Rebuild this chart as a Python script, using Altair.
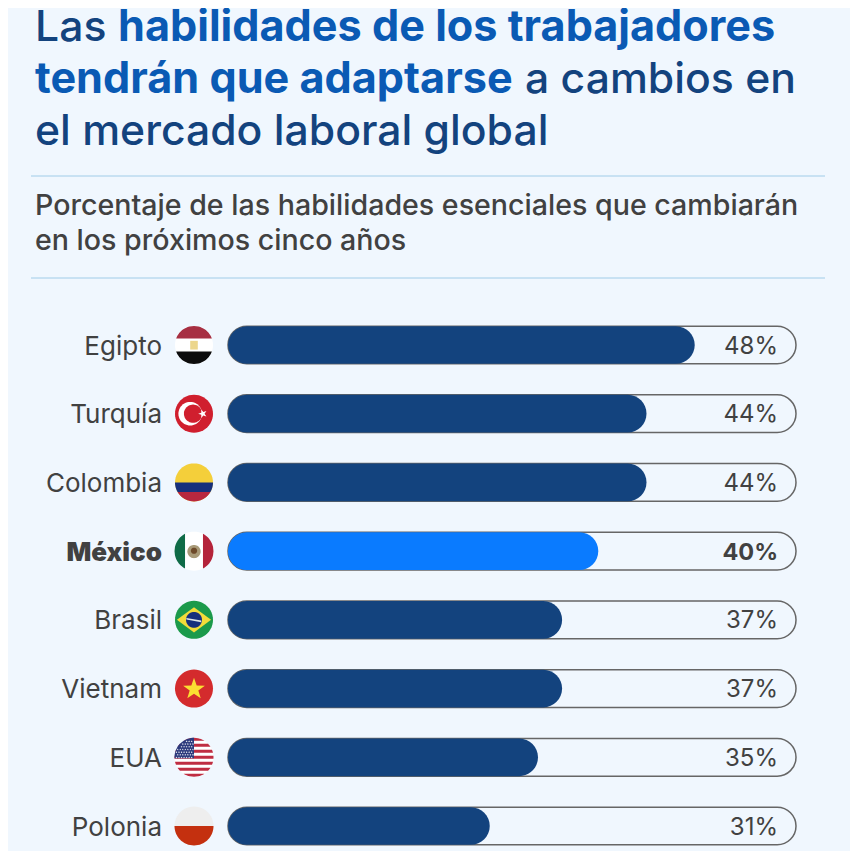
import numpy as np
import pandas as pd
import altair as alt

paises = ["Egipto", "Turquía", "Colombia", "México", "Brasil", "Vietnam", "EUA", "Polonia"]
valores = [48, 44, 44, 40, 37, 37, 35, 31]
destacado = "México"
base_eje = 9.29
tope_eje = 56.4

titulo_1a = "Las"
titulo_1b = "habilidades de los trabajadores"
titulo_2a = "tendrán que adaptarse"
titulo_2b = "a cambios en"
titulo_3 = "el mercado laboral global"
subtitulo_1 = "Porcentaje de las habilidades esenciales que cambiarán"
subtitulo_2 = "en los próximos cinco años"

FONT = "Inter"
BG = "#f0f7fe"
NAVY = "#13437e"
BLUE = "#0a5ab4"
INK = "#414141"

df = pd.DataFrame({
    "pais": paises,
    "valor": valores,
    "etiqueta": [f"{v}%" for v in valores],
    "base": [base_eje] * len(paises),
    "tope": [tope_eje] * len(paises),
    "grupo": ["si" if p == destacado else "no" for p in paises],
})

XS = alt.Scale(domain=[base_eje, tope_eje], range=[220, 788])
X = alt.X("valor:Q", axis=None, scale=XS)
Y = alt.Y("pais:N", axis=None, sort=None,
          scale=alt.Scale(type="point", domain=paises, range=[337, 818], padding=0))


def text_line(txt, x, y, size, color, weight=400, align="left"):
    return alt.Chart(pd.DataFrame({"t": [txt]})).mark_text(
        align=align, baseline="alphabetic", font=FONT, fontSize=size,
        fontWeight=weight, color=color
    ).encode(x=alt.value(x), y=alt.value(y), text="t:N")


def poly(pts):
    return "M" + " L".join(f"{a:.3f} {b:.3f}" for a, b in pts) + " Z"


def band(y0, y1, n=24, vertical=False):
    ys = np.linspace(y0, y1, n)
    xs = np.sqrt(np.clip(1 - ys ** 2, 0, 1))
    pts = [(-a, b) for a, b in zip(xs, ys)] + [(a, b) for a, b in zip(xs[::-1], ys[::-1])]
    if vertical:
        pts = [(b, a) for a, b in pts]
    return poly(pts)


def disc(cx=0.0, cy=0.0, r=1.0, n=48):
    t = np.linspace(0, 2 * np.pi, n, endpoint=False)
    return poly(list(zip(cx + r * np.cos(t), cy + r * np.sin(t))))


def star(cx, cy, r, rot=-np.pi / 2):
    t = rot + np.arange(10) * np.pi / 5
    rr = np.where(np.arange(10) % 2 == 0, r, r * 0.4)
    return poly(list(zip(cx + rr * np.cos(t), cy + rr * np.sin(t))))


def flag(pais, path, color, size=1444):
    return alt.Chart(df).transform_filter(alt.datum.pais == pais).mark_point(
        shape=path, filled=True, color=color, size=size, opacity=1, strokeWidth=0
    ).encode(x=alt.value(186), y=Y)


# Flags
t_q = np.linspace(np.pi, 1.5 * np.pi, 20)
canton = [(0.0, 0.05), (-1.0, 0.05)] + [(np.cos(a), np.sin(a)) for a in t_q if np.sin(a) < 0.05] + [(0.0, -1.0)]
us_dots = " ".join(
    star(-0.9 + 0.13 * i + (0.065 if j % 2 else 0), -0.82 + 0.14 * j, 0.055)
    for j in range(7) for i in range(7)
    if (-0.9 + 0.13 * i + (0.065 if j % 2 else 0)) ** 2 + (-0.82 + 0.14 * j) ** 2 < 0.88
    and (-0.9 + 0.13 * i + (0.065 if j % 2 else 0)) < -0.03
)
us_red = " ".join(band(-1 + i * 2 / 13, -1 + (i + 1) * 2 / 13, n=8) for i in range(0, 13, 2))

flags = [
    flag("Egipto", disc(), "#ffffff"),
    flag("Egipto", band(-1, -0.34), "#a72f42"),
    flag("Egipto", band(0.34, 1), "#0c0c0c"),
    flag("Egipto", poly([(-0.2, -0.22), (0.2, -0.22), (0.2, 0.24), (-0.2, 0.24)]), "#ecd68c"),

    flag("Turquía", disc(), "#d01f2e"),
    flag("Turquía", disc(-0.2, 0, 0.62), "#ffffff"),
    flag("Turquía", disc(-0.05, 0, 0.48), "#d01f2e"),
    flag("Turquía", star(0.46, 0, 0.24, rot=np.pi), "#ffffff"),

    flag("Colombia", disc(), "#f4cf3a"),
    flag("Colombia", band(0.0, 0.5), "#17307c"),
    flag("Colombia", band(0.5, 1), "#b8273f"),

    flag("México", disc(), "#ffffff", 1521),
    flag("México", band(-1, -0.46, vertical=True), "#0f6b47", 1521),
    flag("México", band(0.46, 1, vertical=True), "#b4233a", 1521),
    flag("México", disc(0, 0.02, 0.34), "#a89a78", 1521),
    flag("México", disc(0, -0.02, 0.16), "#6d4a2a", 1521),

    flag("Brasil", disc(), "#1b9a4b"),
    flag("Brasil", poly([(-0.9, 0), (0, -0.66), (0.9, 0), (0, 0.66)]), "#f2dc3a"),
    flag("Brasil", disc(0, 0, 0.42), "#17307c"),
    flag("Brasil", poly([(-0.4, -0.1), (0.38, 0.04), (0.38, 0.12), (-0.4, -0.02)]), "#dfe6e8"),

    flag("Vietnam", disc(), "#d42b2d"),
    flag("Vietnam", star(0, 0.03, 0.6), "#fbdf32"),

    flag("EUA", disc(), "#ffffff", 1521),
    flag("EUA", us_red, "#bf2d42", 1521),
    flag("EUA", poly(canton), "#2c3a7d", 1521),
    flag("EUA", us_dots, "#ffffff", 1521),

    flag("Polonia", disc(), "#eeeeee", 1521),
    flag("Polonia", band(0.0, 1), "#c4300f", 1521),
]

track = alt.Chart(df).mark_bar(
    height=37.7, cornerRadius=18.8, fillOpacity=0, stroke="#666666", strokeWidth=1.5
).encode(x=alt.X("tope:Q", axis=None, scale=XS), x2="base:Q", y=Y)

bars = alt.Chart(df).mark_bar(height=37.7, cornerRadius=18.8).encode(
    x=X, x2="base:Q", y=Y,
    color=alt.Color("grupo:N", legend=None,
                    scale=alt.Scale(domain=["no", "si"], range=[NAVY, "#0a7bff"])),
)


def row_labels(field, x, grupo, weight, size):
    return alt.Chart(df).transform_filter(alt.datum.grupo == grupo).mark_text(
        align="right", baseline="middle", font=FONT, fontSize=size, fontWeight=weight,
        color=INK, dy=1.5
    ).encode(x=alt.value(x), y=Y, text=f"{field}:N")


def rule(y):
    return alt.Chart(pd.DataFrame({"a": [0]})).mark_rule(color="#a0cce8", strokeWidth=1).encode(
        x=alt.value(23), x2=alt.value(817), y=alt.value(y))


chart = alt.layer(
    text_line(titulo_1a, 27, 33, 42.7, NAVY, 500),
    text_line(titulo_1b, 110, 33, 43.2, BLUE, 700),
    text_line(titulo_2a, 27, 85, 43.2, BLUE, 700),
    text_line(titulo_2b, 517, 85, 42.7, NAVY, 500),
    text_line(titulo_3, 27, 137, 42.7, NAVY, 500),
    rule(168),
    text_line(subtitulo_1, 27, 207, 28.6, INK, 500),
    text_line(subtitulo_2, 27, 242, 28.6, INK, 500),
    rule(270),
    track,
    bars,
    row_labels("etiqueta", 770, "no", 400, 24),
    row_labels("etiqueta", 770, "si", 700, 23.5),
    row_labels("pais", 154, "no", 400, 26),
    row_labels("pais", 154, "si", 900, 26),
    *flags,
).properties(
    width=842, height=843, padding=0, background=BG,
    autosize=alt.AutoSizeParams(type="none"),
).configure_view(stroke=None)

chart.save("out.html", embed_options={"renderer": "svg", "actions": False})
